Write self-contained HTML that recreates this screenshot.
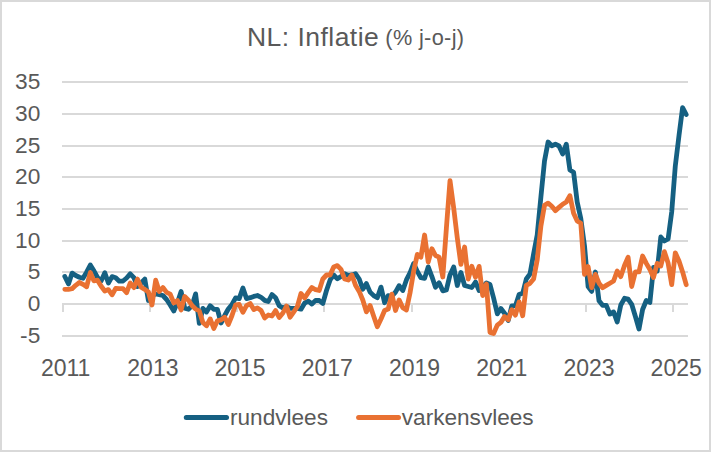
<!DOCTYPE html>
<html><head><meta charset="utf-8"><title>NL: Inflatie</title>
<style>
html,body{margin:0;padding:0;background:#fff;}
svg{display:block;font-family:"Liberation Sans",Arial,sans-serif;}
</style></head><body>
<svg width="711" height="452" viewBox="0 0 711 452">
<rect x="1" y="1" width="709" height="450" fill="#fff" stroke="#D9D9D9" stroke-width="2"/>
<text x="247" y="46" fill="#595959" font-size="26.5" letter-spacing="0.46">NL: Inflatie</text>
<text x="385.3" y="44.7" fill="#595959" font-size="21.7" letter-spacing="0.36">(% j-o-j)</text>
<g stroke="#D9D9D9" stroke-width="2" fill="none">
<line x1="62" y1="336" x2="688" y2="336" />
<line x1="62" y1="272" x2="688" y2="272" />
<line x1="62" y1="241" x2="688" y2="241" />
<line x1="62" y1="209" x2="688" y2="209" />
<line x1="62" y1="177" x2="688" y2="177" />
<line x1="62" y1="146" x2="688" y2="146" />
<line x1="62" y1="114" x2="688" y2="114" />
<line x1="62" y1="82" x2="688" y2="82" />
<line x1="62" y1="304.0" x2="688" y2="304.0" />
<line x1="63.0" y1="304.0" x2="63.0" y2="312" />
<line x1="150.0" y1="304.0" x2="150.0" y2="312" />
<line x1="237.0" y1="304.0" x2="237.0" y2="312" />
<line x1="324.0" y1="304.0" x2="324.0" y2="312" />
<line x1="412.0" y1="304.0" x2="412.0" y2="312" />
<line x1="499.0" y1="304.0" x2="499.0" y2="312" />
<line x1="586.0" y1="304.0" x2="586.0" y2="312" />
<line x1="673.0" y1="304.0" x2="673.0" y2="312" />
</g>
<g fill="#595959" font-size="22.7" text-anchor="end">
<text x="40.3" y="343.0">-5</text>
<text x="40.3" y="311.0">0</text>
<text x="40.3" y="279.0">5</text>
<text x="40.3" y="248.0">10</text>
<text x="40.3" y="216.0">15</text>
<text x="40.3" y="184.0">20</text>
<text x="40.3" y="153.0">25</text>
<text x="40.3" y="121.0">30</text>
<text x="40.3" y="89.0">35</text>
</g>
<g fill="#595959" font-size="23" text-anchor="middle">
<text x="65.7" y="376.4">2011</text>
<text x="152.9" y="376.4">2013</text>
<text x="240.1" y="376.4">2015</text>
<text x="327.3" y="376.4">2017</text>
<text x="414.6" y="376.4">2019</text>
<text x="501.8" y="376.4">2021</text>
<text x="589.0" y="376.4">2023</text>
<text x="676.2" y="376.4">2025</text>
</g>
<g fill="none" stroke-width="4.8" stroke-linejoin="round" stroke-linecap="round">
<polyline stroke="#156082" points="64.8,276.5 68.5,283.9 72.1,273.1 75.7,275.5 79.4,277.2 83.0,278.3 86.6,272.1 90.3,265.0 93.9,270.8 97.5,277.5 101.2,280.9 104.8,272.8 108.4,283.0 112.1,276.6 115.7,277.7 119.3,281.2 123.0,281.0 126.6,278.0 130.2,273.9 133.9,277.7 137.5,286.5 141.1,283.0 144.8,279.1 148.4,300.5 152.0,296.0 155.7,294.0 159.3,294.6 162.9,295.5 166.6,299.5 170.2,305.0 173.8,311.0 177.5,302.4 181.1,291.5 184.7,308.3 188.4,309.3 192.0,305.6 195.6,293.9 199.3,323.4 202.9,308.4 206.5,312.0 210.2,305.7 213.8,309.3 217.4,309.3 221.1,323.0 224.7,315.5 228.3,309.0 232.0,304.4 235.6,297.9 239.2,298.6 242.9,288.0 246.5,298.6 250.2,297.7 253.8,296.4 257.4,295.5 261.1,297.3 264.7,300.4 268.3,301.5 272.0,294.5 275.6,297.7 279.2,305.7 282.9,308.0 286.5,306.5 290.1,308.3 293.8,308.3 297.4,308.3 301.0,309.2 304.7,303.0 308.3,301.2 311.9,304.0 315.6,300.4 319.2,300.5 322.8,303.5 326.5,290.5 330.1,279.9 333.7,275.0 337.4,278.8 341.0,276.4 344.6,273.7 348.3,275.5 351.9,275.0 355.5,273.7 359.2,279.0 362.8,289.2 366.4,283.6 370.1,292.1 373.7,295.6 377.3,297.7 381.0,287.1 384.6,302.7 388.2,295.6 391.9,296.3 395.5,292.1 399.1,285.7 402.8,290.5 406.4,279.9 410.0,272.8 413.7,263.5 417.3,271.4 420.9,277.7 424.6,278.4 428.2,266.9 431.9,276.6 435.5,287.3 439.1,282.8 442.8,290.8 446.4,289.9 450.0,274.9 453.7,266.9 457.3,285.5 460.9,272.5 464.6,285.5 468.2,286.5 471.8,287.5 475.5,282.0 479.1,290.5 482.7,287.0 486.4,283.0 490.0,284.5 493.6,298.0 497.3,313.8 500.9,308.5 504.5,313.2 508.2,320.5 511.8,305.9 515.4,305.9 519.1,294.6 522.7,293.3 526.3,279.0 530.0,274.0 533.6,254.0 537.2,235.0 540.9,197.0 544.5,161.0 548.1,142.0 551.8,145.7 555.4,144.2 559.0,146.0 562.7,154.0 566.3,144.2 569.9,170.0 573.6,172.3 577.2,202.0 580.8,218.6 584.5,245.7 588.1,286.5 591.7,291.4 595.4,272.0 599.0,300.8 602.6,305.3 606.3,305.3 609.9,314.1 613.6,311.9 617.2,322.0 620.8,305.0 624.5,298.3 628.1,299.2 631.7,304.3 635.4,316.5 639.0,329.0 642.6,309.5 646.3,300.5 649.9,302.5 653.5,267.5 657.2,271.0 660.8,237.0 664.4,241.0 668.1,239.0 671.7,212.0 675.3,166.0 679.0,135.5 682.6,107.6 686.2,114.5"/>
<polyline stroke="#E97132" points="64.8,289.3 68.5,289.3 72.1,288.7 75.7,285.3 79.4,282.5 83.0,284.3 86.6,286.8 90.3,272.5 93.9,280.9 97.5,280.2 101.2,286.3 104.8,291.0 108.4,289.6 112.1,294.8 115.7,288.3 119.3,288.7 123.0,288.7 126.6,292.7 130.2,283.0 133.9,287.6 137.5,279.1 141.1,287.2 144.8,289.4 148.4,292.0 152.0,305.0 155.7,280.2 159.3,291.5 162.9,287.5 166.6,292.4 170.2,294.1 173.8,302.9 177.5,300.5 181.1,310.0 184.7,296.5 188.4,300.2 192.0,305.5 195.6,309.0 199.3,311.0 202.9,322.5 206.5,325.8 210.2,318.9 213.8,328.5 217.4,320.8 221.1,319.9 224.7,317.2 228.3,324.5 232.0,315.5 235.6,304.8 239.2,304.4 242.9,312.3 246.5,305.7 250.2,303.6 253.8,309.6 257.4,307.9 261.1,310.5 264.7,318.0 268.3,315.0 272.0,316.0 275.6,310.5 279.2,317.5 282.9,313.0 286.5,306.1 290.1,317.2 293.8,311.9 297.4,306.5 301.0,293.5 304.7,298.0 308.3,292.4 311.9,287.5 315.6,289.7 319.2,290.5 322.8,279.0 326.5,275.0 330.1,275.0 333.7,267.0 337.4,265.6 341.0,269.3 344.6,279.0 348.3,280.0 351.9,275.0 355.5,285.2 359.2,291.4 362.8,300.0 366.4,311.9 370.1,305.5 373.7,316.2 377.3,326.8 381.0,319.0 384.6,310.5 388.2,309.1 391.9,294.2 395.5,310.5 399.1,299.9 402.8,307.7 406.4,310.0 410.0,293.0 413.7,271.0 417.3,254.4 420.9,257.2 424.6,235.0 428.2,262.0 431.9,248.7 435.5,255.5 439.1,257.2 442.8,277.0 446.4,228.0 450.0,180.6 453.7,208.0 457.3,238.0 460.9,264.4 464.6,247.0 468.2,279.0 471.8,266.2 475.5,277.2 479.1,266.4 482.7,295.5 486.4,284.0 490.0,332.4 493.6,333.5 497.3,325.1 500.9,322.4 504.5,316.5 508.2,319.8 511.8,309.8 515.4,315.1 519.1,301.9 522.7,315.8 526.3,285.3 530.0,283.3 533.6,279.0 537.2,260.0 540.9,226.0 544.5,205.3 548.1,203.1 551.8,206.3 555.4,210.6 559.0,207.4 562.7,204.2 566.3,202.0 569.9,195.7 573.6,213.2 577.2,221.0 580.8,223.3 584.5,274.4 588.1,266.6 591.7,287.7 595.4,274.4 599.0,283.2 602.6,287.7 606.3,285.4 609.9,283.2 613.6,281.0 617.2,271.0 620.8,276.6 624.5,265.5 628.1,257.2 631.7,286.5 635.4,271.9 639.0,271.9 642.6,256.0 646.3,263.4 649.9,269.5 653.5,277.5 657.2,263.4 660.8,266.0 664.4,251.7 668.1,263.0 671.7,284.7 675.3,252.8 679.0,261.0 682.6,271.9 686.2,284.7"/>
</g>
<g stroke-width="5" stroke-linecap="round">
<line x1="186.3" y1="417.6" x2="226.5" y2="417.6" stroke="#156082"/>
<line x1="358.6" y1="417.6" x2="398.5" y2="417.6" stroke="#E97132"/>
</g>
<g fill="#595959" font-size="22.6">
<text x="230" y="424.8">rundvlees</text>
<text x="401.8" y="424.8">varkensvlees</text>
</g>
</svg>
</body></html>
